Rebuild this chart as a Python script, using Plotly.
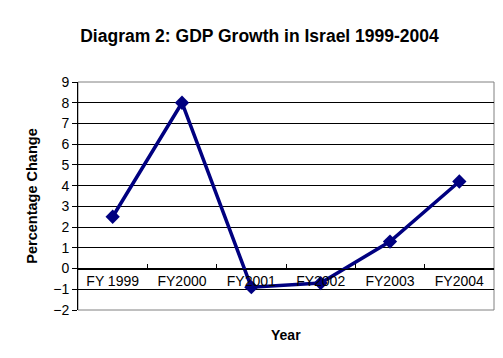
import plotly.graph_objects as go

years = ["FY 1999", "FY2000", "FY2001", "FY2002", "FY2003", "FY2004"]
growth = [2.5, 8.0, -0.9, -0.7, 1.3, 4.2]
y_ticks = list(range(-2, 10))

fig = go.Figure()
fig.add_trace(go.Scatter(
    x=years, y=growth, mode="lines+markers",
    line=dict(color="#000080", width=3.5),
    marker=dict(symbol="diamond", size=11, color="#000080"),
    showlegend=False, cliponaxis=False,
))

font_family = "Liberation Sans, Arial, sans-serif"
fig.update_layout(
    width=503, height=358,
    margin=dict(l=70, r=17, t=74, b=56),
    paper_bgcolor="white", plot_bgcolor="white",
    font=dict(family=font_family, size=14, color="black"),
    title=dict(text="<b>Diagram 2: GDP Growth in Israel 1999-2004</b>",
               x=0.5, xanchor="center", y=1 - 28 / 358, yanchor="middle",
               font=dict(size=17.5, color="black")),
    xaxis=dict(
        type="category", range=[-0.5, 5.5],
        anchor="free", position=2 / 11,
        showline=True, linecolor="black", linewidth=1,
        ticks="inside", ticklen=5, tickcolor="black", tickson="boundaries",
        showgrid=False, zeroline=False,
        tickfont=dict(size=14, color="black"),
    ),
    yaxis=dict(
        range=[-2, 9], tickvals=y_ticks,
        showline=True, linecolor="black", linewidth=1,
        ticks="outside", ticklen=5, tickcolor="black",
        showgrid=True, gridcolor="black", gridwidth=1,
        zeroline=False,
        tickfont=dict(size=14, color="black"),
        title=dict(text="<b>Percentage Change</b>", font=dict(size=14.5), standoff=12),
    ),
    shapes=[dict(type="rect", xref="paper", yref="paper", x0=0, x1=1, y0=0, y1=1,
                 line=dict(color="#808080", width=1), layer="below")],
    annotations=[dict(text="<b>Year</b>", xref="paper", yref="paper", x=0.5, y=-25 / 228,
                      xanchor="center", yanchor="middle", showarrow=False,
                      font=dict(size=14, color="black"))],
)

fig.write_html("out.html")
